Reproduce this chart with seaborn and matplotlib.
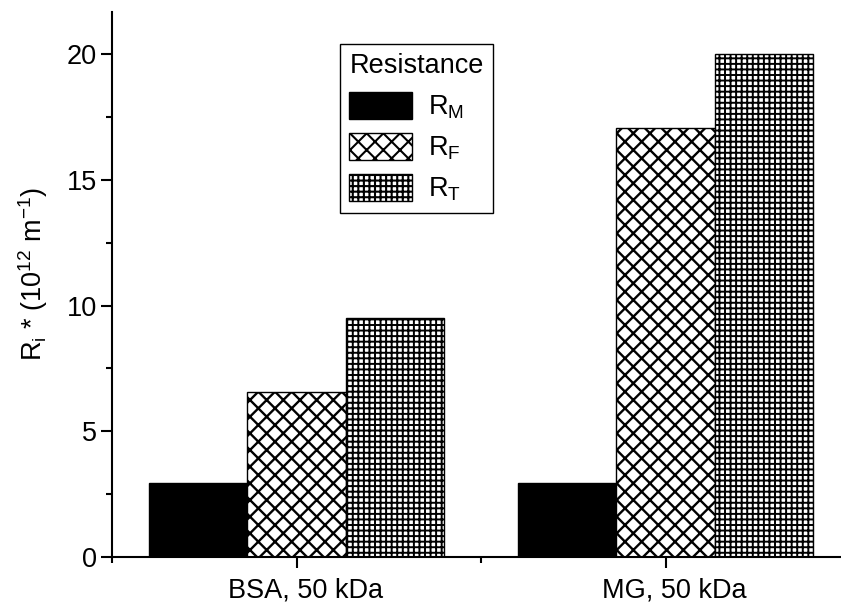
import matplotlib
matplotlib.use('Agg')
import matplotlib.pyplot as plt
import matplotlib.transforms as mtrans
import seaborn as sns
import pandas as pd
from matplotlib.ticker import MultipleLocator, FixedLocator
from matplotlib.patches import Patch

# ---- data ----
categories = ['BSA, 50 kDa', 'MG, 50 kDa']
series = [r'R$_\mathregular{M}$', r'R$_\mathregular{F}$', r'R$_\mathregular{T}$']
r_m = [2.94, 2.94]
r_f = [6.56, 17.06]
r_t = [9.50, 20.00]

sns.set_theme(style='ticks')
plt.rcParams['font.family'] = ['Liberation Sans', 'DejaVu Sans']
plt.rcParams['mathtext.fontset'] = 'custom'
plt.rcParams['mathtext.rm'] = 'Liberation Sans'
plt.rcParams['mathtext.it'] = 'Liberation Sans:italic'
plt.rcParams['mathtext.bf'] = 'Liberation Sans:bold'
plt.rcParams['hatch.linewidth'] = 1.5
plt.rcParams['hatch.color'] = 'black'
for k in ['text.color', 'axes.labelcolor', 'xtick.color', 'ytick.color',
          'xtick.labelcolor', 'ytick.labelcolor']:
    plt.rcParams[k] = 'black'

df = pd.DataFrame({
    'cat': categories * 3,
    'series': [s for s in series for _ in categories],
    'value': r_m + r_f + r_t,
})

FS = 19.5
fig = plt.figure(figsize=(8.41, 6.08), dpi=100)
ax_left, ax_bottom = 112 / 841, 1 - 557 / 608
ax = fig.add_axes([ax_left, ax_bottom, 1 - ax_left, (557 - 12) / 608])

sns.barplot(data=df, x='cat', y='value', hue='series', order=categories,
            hue_order=series, palette=['black', 'white', 'white'],
            edgecolor='black', linewidth=1.0, saturation=1, width=0.8,
            legend=False, ax=ax)

hatches = ['', 'xx', '+++']
hatch_lw = [1.0, 1.7, 1.4]
for cont, h, hl in zip(ax.containers, hatches, hatch_lw):
    for bar in cont:
        bar.set_hatch(h)
        if hasattr(bar, 'set_hatch_linewidth'):
            bar.set_hatch_linewidth(hl)

ax.set_xlim(-0.5, -0.5 + (841 - 112) / 369)
ax.set_ylim(0, 21.67)
ax.yaxis.set_major_locator(MultipleLocator(5))
ax.yaxis.set_minor_locator(MultipleLocator(2.5))
ax.xaxis.set_minor_locator(FixedLocator([-0.5, 0.5, 1.5]))

for s in ['top', 'right']:
    ax.spines[s].set_visible(False)
for s in ['left', 'bottom']:
    ax.spines[s].set_linewidth(1.5)
    ax.spines[s].set_color('black')

ax.tick_params(axis='both', which='major', direction='out', length=8,
               width=1.5, labelsize=FS, colors='black')
ax.tick_params(axis='both', which='minor', direction='out', length=4.5,
               width=1.5, colors='black')
ax.tick_params(axis='x', which='major', pad=7)
ax.tick_params(axis='y', which='major', pad=3)

ax.set_xlabel('')
ax.set_ylabel(r'R$_\mathregular{i}$ * (10$^\mathregular{12}$ m$^\mathregular{-1}$)',
              fontsize=FS, color='black')
ax.yaxis.set_label_coords(-0.085, 0.52)

offset = mtrans.ScaledTranslation(9 / 100, 0, fig.dpi_scale_trans)
for lab in ax.get_xticklabels():
    lab.set_transform(lab.get_transform() + offset)

handles = []
for col, h, hl in zip(['black', 'white', 'white'], hatches, hatch_lw):
    p = Patch(facecolor=col, edgecolor='black', hatch=h if h else None, linewidth=1.0)
    if h and hasattr(p, 'set_hatch_linewidth'):
        p.set_hatch_linewidth(hl)
    handles.append(p)
leg = fig.legend(handles, series, title='Resistance', loc='upper left',
                 bbox_to_anchor=(340 / 841, 1 - 44 / 608), fontsize=FS,
                 title_fontsize=FS, frameon=True, fancybox=False,
                 edgecolor='black', framealpha=1, handlelength=2.3,
                 handleheight=1.15, labelspacing=0.45, handletextpad=0.6,
                 borderpad=0.35, borderaxespad=0, alignment='left')
leg.get_frame().set_linewidth(1.0)
for t in leg.get_texts():
    t.set_color('black')
leg.get_title().set_color('black')

fig.savefig('out.png', dpi=100)
